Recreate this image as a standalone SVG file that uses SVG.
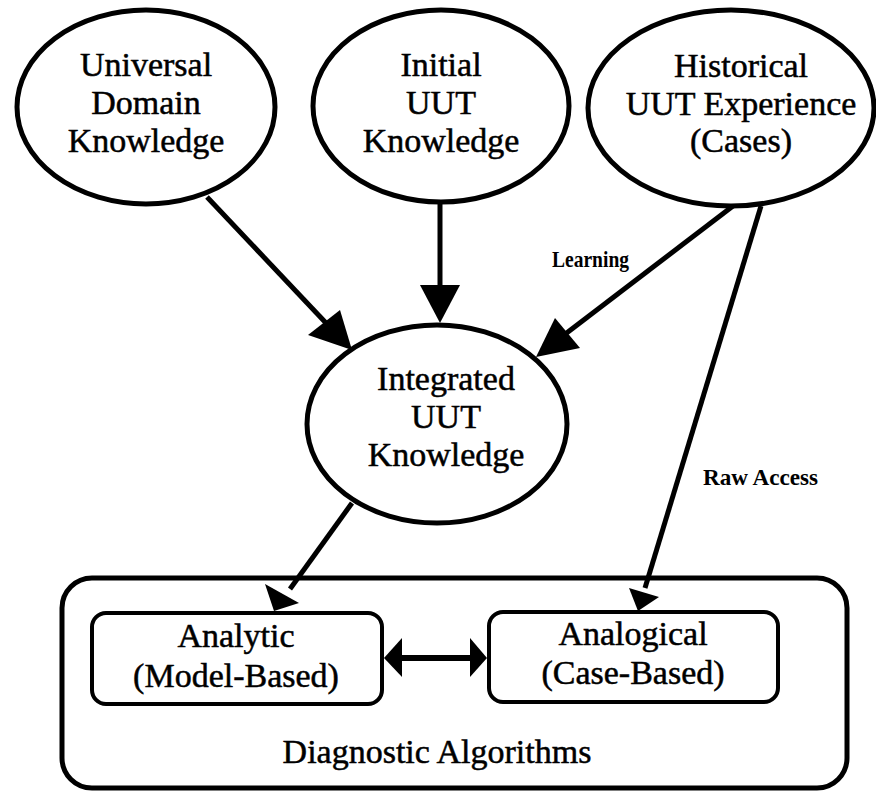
<svg xmlns="http://www.w3.org/2000/svg" width="876" height="793" viewBox="0 0 876 793">
  <style>
    .shape { fill: #ffffff; stroke: #000000; stroke-width: 5; }
    .box { fill: #ffffff; stroke: #000000; stroke-width: 4; }
    .label { font-family: "Liberation Serif", "Times New Roman", serif; font-size: 34px; fill: #000000; stroke: #000000; stroke-width: 0.5; text-anchor: middle; }
    .edge-label { font-family: "Liberation Serif", "Times New Roman", serif; font-size: 23px; font-weight: bold; fill: #000000; }
    .line { fill: none; stroke: #000000; stroke-width: 5; }
    .head { fill: #000000; stroke: none; }
  </style>
  <rect width="876" height="793" fill="#ffffff"/>

  <!-- knowledge sources -->
  <g id="universal-domain">
    <ellipse class="shape" cx="146" cy="107" rx="129" ry="97"/>
    <text class="label" x="146" y="76">Universal</text>
    <text class="label" x="146" y="114">Domain</text>
    <text class="label" x="146" y="152">Knowledge</text>
  </g>
  <g id="initial-uut">
    <ellipse class="shape" cx="441" cy="106" rx="128" ry="96"/>
    <text class="label" x="441" y="76">Initial</text>
    <text class="label" x="441" y="114">UUT</text>
    <text class="label" x="441" y="152">Knowledge</text>
  </g>
  <g id="historical-uut">
    <ellipse class="shape" cx="731" cy="108" rx="143" ry="98"/>
    <text class="label" x="741" y="77">Historical</text>
    <text class="label" x="741" y="115">UUT Experience</text>
    <text class="label" x="741" y="152">(Cases)</text>
  </g>
  <g id="integrated-uut">
    <ellipse class="shape" cx="437" cy="424" rx="130" ry="99"/>
    <text class="label" x="446" y="390">Integrated</text>
    <text class="label" x="446" y="428">UUT</text>
    <text class="label" x="446" y="466">Knowledge</text>
  </g>

  <!-- algorithm container -->
  <g id="diagnostic-algorithms">
    <rect class="shape" x="62" y="578" width="785" height="210" rx="30" ry="30"/>
    <text class="label" x="437" y="763">Diagnostic Algorithms</text>
  </g>
  <g id="analytic">
    <rect class="box" x="92" y="613" width="290" height="91" rx="14" ry="14"/>
    <text class="label" x="236" y="647">Analytic</text>
    <text class="label" x="236" y="687">(Model-Based)</text>
  </g>
  <g id="analogical">
    <rect class="box" x="489" y="612" width="289" height="90" rx="14" ry="14"/>
    <text class="label" x="633" y="645">Analogical</text>
    <text class="label" x="633" y="684">(Case-Based)</text>
  </g>

  <!-- connectors -->
  <g id="connectors">
    <!-- universal -> integrated -->
    <path class="line" d="M207,197 L326,323"/>
    <polygon class="head" points="352,350 308,335 340,310"/>
    <!-- initial -> integrated -->
    <path class="line" d="M440,202 L440,290"/>
    <polygon class="head" points="440,323 420,285 460,285"/>
    <!-- historical -> integrated (learning) -->
    <path class="line" d="M733,206 L564,335"/>
    <polygon class="head" points="536,357 555,318 580,348"/>
    <text class="edge-label" x="552" y="267" textLength="77" lengthAdjust="spacingAndGlyphs">Learning</text>
    <!-- historical -> analogical (raw access) -->
    <path class="line" d="M761,206 L645,588"/>
    <polygon class="head" points="638,611 629,588 659,597"/>
    <text class="edge-label" x="703" y="485" textLength="115" lengthAdjust="spacingAndGlyphs">Raw Access</text>
    <!-- integrated -> analytic -->
    <path class="line" d="M352,503 L290,589"/>
    <polygon class="head" points="274,611 265,584 299,603"/>
    <!-- analytic <-> analogical -->
    <path class="line" d="M398,658 L474,658" style="stroke-width:6"/>
    <polygon class="head" points="384,658 402,638 402,677"/>
    <polygon class="head" points="487,658 470,638 470,677"/>
  </g>
</svg>
